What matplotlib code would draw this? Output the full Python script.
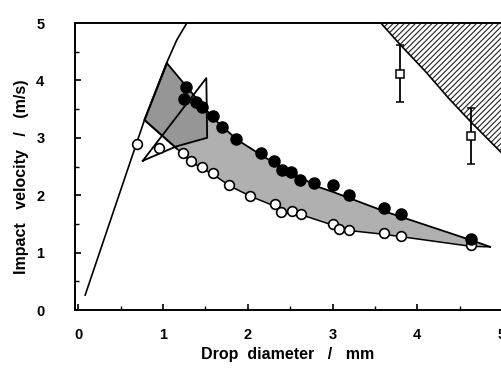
import matplotlib.pyplot as plt
import numpy as np

plt.rcParams['font.family'] = ['Liberation Sans', 'DejaVu Sans']
plt.rcParams['hatch.linewidth'] = 0.8

# limiting curve on the left
curve_d = [0.08, 0.66, 0.78, 1.04, 1.16, 1.28]
curve_v = [0.26, 2.79, 3.31, 4.30, 4.70, 5.00]

# upper and lower edge of the grey band
upper_d = [1.045, 1.30, 1.60, 1.87, 2.20, 2.82, 3.00, 3.61, 4.63, 4.86]
upper_v = [4.30, 3.85, 3.33, 2.97, 2.66, 2.15, 2.06, 1.72, 1.22, 1.10]
lower_d = [1.155, 1.33, 1.60, 1.80, 2.05, 2.30, 2.40, 2.65, 3.00, 3.10, 3.60, 4.63, 4.86]
lower_v = [2.82, 2.58, 2.35, 2.15, 1.97, 1.82, 1.70, 1.65, 1.48, 1.40, 1.32, 1.11, 1.10]
left_vertex = (0.78, 3.31)

# darker left part
dark_d = [1.045, 0.78, 1.155, 1.52, 1.51, 1.30]
dark_v = [4.30, 3.31, 2.82, 3.00, 3.49, 3.85]

# outlined polygon
tri_d = [0.76, 1.51, 1.52, 1.155, 0.76]
tri_v = [2.60, 4.04, 3.00, 2.85, 2.60]

# open and filled circles
open_d = [0.69, 0.95, 1.24, 1.33, 1.46, 1.59, 1.78, 2.03, 2.32, 2.39, 2.52, 2.63,
          3.01, 3.08, 3.20, 3.61, 3.81, 4.63]
open_v = [2.89, 2.82, 2.74, 2.60, 2.49, 2.38, 2.17, 1.98, 1.85, 1.71, 1.73, 1.67,
          1.50, 1.41, 1.39, 1.34, 1.29, 1.13]
fill_d = [1.27, 1.25, 1.39, 1.46, 1.59, 1.69, 1.86, 2.16, 2.31, 2.40, 2.51, 2.62,
          2.78, 3.00, 3.20, 3.61, 3.81, 4.63]
fill_v = [3.88, 3.67, 3.63, 3.54, 3.38, 3.19, 2.98, 2.73, 2.59, 2.44, 2.40, 2.27,
          2.21, 2.17, 2.00, 1.78, 1.67, 1.23]

# squares with error bars
sq_d = [3.80, 4.63]
sq_v = [4.12, 3.03]
sq_err = [0.50, 0.49]

# hatched region boundary
hatch_d = [3.57, 3.80, 4.10, 4.37, 4.63, 4.98, 5.10]
hatch_v = [5.00, 4.62, 4.15, 3.69, 3.28, 2.76, 2.60]

fig = plt.figure(figsize=(5.02, 3.74), dpi=100)
ax = fig.add_axes([0.1494, 0.1711, 0.8506, 0.7674])

# grey band
band_d = upper_d + lower_d[::-1] + [left_vertex[0]]
band_v = upper_v + lower_v[::-1] + [left_vertex[1]]
ax.fill(band_d, band_v, color='#b0b0b0', lw=0, zorder=1)
ax.fill(dark_d, dark_v, color='#969696', lw=0, zorder=1)

# edges
ax.plot(upper_d, upper_v, color='black', lw=1.3, zorder=2)
ax.plot(lower_d, lower_v, color='black', lw=1.1, zorder=2)
ax.plot([upper_d[0], left_vertex[0], lower_d[0]], [upper_v[0], left_vertex[1], lower_v[0]],
        color='black', lw=1.5, zorder=2)
ax.plot(tri_d, tri_v, color='black', lw=1.3, zorder=2)
ax.plot(curve_d, curve_v, color='black', lw=1.2, zorder=2)

# hatched region
ax.fill_between(hatch_d, hatch_v, 5.0, facecolor='white', edgecolor='#222222',
                hatch='//////', lw=0, zorder=1)
ax.plot(hatch_d, hatch_v, color='black', lw=1.2, zorder=2)

ax.plot(open_d, open_v, 'o', ms=7, mfc='white', mec='black', mew=1.2, zorder=3)
ax.plot(fill_d, fill_v, 'o', ms=8, mfc='black', mec='black', zorder=3)
ax.errorbar(sq_d, sq_v, yerr=sq_err, fmt='s', ms=6, mfc='white', mec='black', mew=1.1,
            ecolor='black', elinewidth=1.3, capsize=3, capthick=1.2, zorder=3)

ax.set_xlim(-0.04, 4.98)
ax.set_ylim(0, 5)
ax.spines['right'].set_visible(False)
for s in ['left', 'bottom', 'top']:
    ax.spines[s].set_linewidth(1.4)

ax.set_xticks(np.arange(0, 6, 1))
ax.set_xticks(np.arange(0, 5.5, 0.5), minor=True)
ax.set_yticks(np.arange(0, 6, 1))
ax.set_yticks(np.arange(0, 5.5, 0.5), minor=True)
ax.tick_params(which='major', direction='in', length=4, width=1.2)
ax.tick_params(which='minor', direction='in', length=3, width=1.0)
ax.tick_params(axis='x', which='major', pad=13, labelsize=10.5)
ax.tick_params(axis='y', which='major', pad=22, labelsize=10.5)
for lab in ax.get_xticklabels() + ax.get_yticklabels():
    lab.set_fontweight('bold')

ax.set_xlabel('Drop  diameter   /   mm', fontsize=11.5, fontweight='bold')
ax.set_ylabel('Impact   velocity   /   (m/s)', fontsize=11.5, fontweight='bold')
ax.xaxis.set_label_coords(0.499, -0.128)
ax.yaxis.set_label_coords(-0.108, 0.463)

fig.savefig('out.png', dpi=100)
